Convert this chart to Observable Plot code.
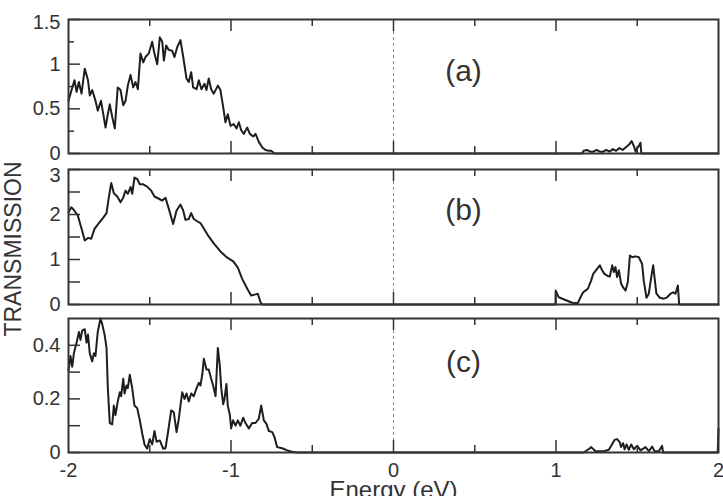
<!DOCTYPE html>
<html><head><meta charset="utf-8">
<script src="https://cdn.jsdelivr.net/npm/d3@7"></script>
<script src="https://cdn.jsdelivr.net/npm/@observablehq/plot@0.6"></script>
<style>
body{margin:0;background:#fff;}
#chart{position:relative;width:723px;height:496px;overflow:hidden;font-family:"Liberation Sans",Arial,sans-serif;color:#333;background:#fff;}
#chart svg{position:absolute;left:0;}
#ylab{position:absolute;left:13px;top:249px;transform:translate(-50%,-50%) rotate(-90deg);font-size:23px;white-space:nowrap;color:#333;}
</style></head><body><div id="chart"><div id="ylab">TRANSMISSION</div></div>
<script>
// ---- data ----
const energyA = [-2.0,-1.977,-1.963,-1.95,-1.936,-1.92,-1.90,-1.88,-1.869,-1.854,-1.834,-1.82,-1.80,-1.786,-1.772,-1.758,-1.746,-1.731,-1.715,-1.697,-1.68,-1.663,-1.649,-1.635,-1.618,-1.602,-1.588,-1.573,-1.557,-1.54,-1.526,-1.506,-1.485,-1.471,-1.454,-1.438,-1.423,-1.413,-1.399,-1.383,-1.362,-1.348,-1.331,-1.311,-1.294,-1.274,-1.26,-1.245,-1.233,-1.212,-1.198,-1.182,-1.163,-1.151,-1.137,-1.122,-1.106,-1.081,-1.065,-1.048,-1.034,-1.02,-1.003,-0.983,-0.966,-0.952,-0.937,-0.921,-0.90,-0.884,-0.863,-0.849,-0.829,-0.808,-0.788,-0.767,-0.753,-0.732,
  1.16,1.17,1.19,1.21,1.23,1.25,1.27,1.29,1.31,1.33,1.35,1.37,1.39,1.41,1.43,1.45,1.465,1.48,1.49,1.50,1.515,1.52,1.525,2.0];
const transA = [0.59,0.735,0.82,0.69,0.80,0.67,0.95,0.82,0.65,0.71,0.59,0.48,0.59,0.44,0.29,0.44,0.55,0.41,0.28,0.74,0.71,0.54,0.59,0.76,0.88,0.74,0.80,0.72,1.12,1.02,1.08,1.12,1.25,1.12,1.00,1.30,1.25,1.04,1.21,1.16,1.15,1.08,1.19,1.27,1.08,0.84,0.80,0.91,0.74,0.72,0.82,0.72,0.78,0.71,0.84,0.72,0.67,0.76,0.71,0.52,0.35,0.44,0.31,0.33,0.28,0.35,0.26,0.22,0.29,0.22,0.19,0.22,0.13,0.07,0.04,0.03,0.03,0.0,
  0,0.03,0.04,0.02,0.02,0.04,0.02,0.02,0.04,0.02,0.05,0.03,0.06,0.04,0.07,0.10,0.14,0.08,0.02,0.06,0.10,0.12,0.0,0];

const energyB = [-2.0,-1.983,-1.967,-1.943,-1.916,-1.90,-1.88,-1.86,-1.84,-1.813,-1.786,-1.766,-1.752,-1.737,-1.721,-1.70,-1.68,-1.663,-1.649,-1.635,-1.618,-1.608,-1.594,-1.577,-1.561,-1.54,-1.516,-1.491,-1.471,-1.444,-1.423,-1.403,-1.383,-1.356,-1.335,-1.311,-1.294,-1.28,-1.26,-1.245,-1.229,-1.208,-1.188,-1.146,-1.106,-1.065,-1.023,-0.986,-0.958,-0.931,-0.90,-0.876,-0.855,-0.835,-0.818,-0.808,
  0.997,0.998,1.017,1.058,1.10,1.134,1.151,1.167,1.196,1.216,1.229,1.253,1.27,1.284,1.298,1.315,1.331,1.346,1.356,1.366,1.376,1.387,1.401,1.413,1.428,1.442,1.455,1.469,1.489,1.51,1.53,1.54,1.557,1.571,1.586,1.598,1.606,1.618,1.639,1.664,1.684,1.705,1.721,1.735,1.75,1.758,2.0];
const transB = [2.05,2.16,2.10,1.98,1.64,1.42,1.48,1.46,1.68,1.81,1.93,2.03,2.38,2.70,2.47,2.40,2.27,2.38,2.53,2.46,2.61,2.46,2.82,2.79,2.67,2.67,2.62,2.53,2.40,2.35,2.31,2.37,2.13,1.79,2.09,2.22,2.09,1.88,1.90,2.03,1.90,1.85,1.81,1.56,1.36,1.18,1.04,0.96,0.82,0.57,0.35,0.20,0.22,0.24,0.05,0,
  0,0.31,0.16,0.10,0.04,0.03,0.16,0.27,0.35,0.53,0.68,0.79,0.87,0.76,0.68,0.64,0.62,0.87,0.72,0.83,0.61,0.76,0.46,0.38,0.31,0.50,1.09,1.05,1.07,1.05,0.90,0.53,0.15,0.24,0.61,0.87,0.61,0.24,0.15,0.13,0.16,0.24,0.27,0.24,0.42,0,0];

const energyC = [-2.0,-1.988,-1.977,-1.967,-1.95,-1.936,-1.926,-1.916,-1.90,-1.889,-1.88,-1.869,-1.854,-1.844,-1.834,-1.82,-1.803,-1.793,-1.778,-1.766,-1.758,-1.746,-1.731,-1.721,-1.711,-1.697,-1.684,-1.676,-1.663,-1.655,-1.643,-1.635,-1.623,-1.608,-1.594,-1.577,-1.561,-1.546,-1.532,-1.516,-1.50,-1.485,-1.471,-1.458,-1.438,-1.417,-1.403,-1.389,-1.368,-1.352,-1.335,-1.321,-1.311,-1.30,-1.286,-1.274,-1.26,-1.245,-1.229,-1.212,-1.198,-1.188,-1.177,-1.167,-1.151,-1.137,-1.122,-1.11,-1.095,-1.081,-1.069,-1.06,-1.048,-1.04,-1.028,-1.02,-1.007,-0.999,-0.987,-0.972,-0.958,-0.942,-0.925,-0.911,-0.89,-0.87,-0.849,-0.829,-0.814,-0.798,-0.782,-0.767,-0.746,-0.732,-0.716,-0.685,-0.654,-0.625,-0.593,
  1.171,1.202,1.217,1.243,1.294,1.325,1.346,1.36,1.376,1.393,1.40,1.413,1.422,1.434,1.448,1.463,1.479,1.50,1.52,1.551,1.571,1.592,1.606,1.633,1.653,1.659,1.995,2.0];
const transC = [0.306,0.36,0.32,0.37,0.41,0.45,0.42,0.455,0.46,0.41,0.44,0.37,0.34,0.37,0.36,0.45,0.50,0.48,0.44,0.39,0.24,0.11,0.105,0.175,0.14,0.19,0.225,0.21,0.275,0.22,0.25,0.24,0.29,0.24,0.175,0.165,0.12,0.07,0.03,0.014,0.05,0.03,0.08,0.04,0.045,0.014,0.016,0.07,0.157,0.15,0.076,0.126,0.175,0.225,0.20,0.22,0.19,0.22,0.21,0.24,0.26,0.25,0.29,0.35,0.31,0.31,0.275,0.25,0.21,0.39,0.325,0.24,0.18,0.20,0.256,0.175,0.14,0.09,0.12,0.10,0.12,0.10,0.13,0.11,0.09,0.11,0.11,0.126,0.175,0.12,0.107,0.08,0.076,0.057,0.02,0.016,0.008,0.003,0,
  0,0.013,0.02,0.005,0.005,0.01,0.032,0.047,0.05,0.038,0.02,0.035,0.012,0.03,0.01,0.03,0.012,0.025,0.008,0.02,0.005,0.022,0.005,0.005,0.025,0,0,0.09];

const xTickLabels = [-2, -1, 0, 1, 2];
const xMajorTicks = [-1, 0, 1];
const xMinorTicks = [-1.5, -0.5, 0.5, 1.5];
const panelLabels = ["(a)", "(b)", "(c)"];
const yTicksA = [0, 0.5, 1, 1.5], yMinorA = [0.25, 0.75, 1.25];
const yTicksB = [0, 1, 2, 3], yMinorB = [0.5, 1.5, 2.5];
const yTicksC = [0, 0.2, 0.4], yMinorC = [0.1, 0.3];

// ---- drawing ----
const W = 723, ML = 68, MR = 5;
const FONT = '"Liberation Sans", Arial, sans-serif';
const INK = "#333";

function panel(o) {
  const iw = W - ML - MR, ih = o.height - o.mt - o.mb;
  const data = o.energy.map((e, i) => ({e, t: o.trans[i]}));
  const top = o.yDomain[1];
  const marks = [
    Plot.ruleX([0], {stroke: "#8c8c8c", strokeDasharray: "3,3", strokeWidth: 1}),
    Plot.line(data, {x: "e", y: "t", stroke: "#1e1e1e", strokeWidth: 2}),
    Plot.tickY(o.yTicks, {y: d => d, insetRight: iw - 12, stroke: INK, strokeWidth: 1.5}),
    Plot.tickY(o.yMinor, {y: d => d, insetRight: iw - o.minorLen, stroke: INK, strokeWidth: 1.5}),
    Plot.tickX(xMajorTicks, {x: d => d, insetBottom: ih - 12, stroke: INK, strokeWidth: 1.5}),
    Plot.tickX(xMajorTicks, {x: d => d, insetTop: ih - 12, stroke: INK, strokeWidth: 1.5}),
    Plot.tickX(xMinorTicks, {x: d => d, insetBottom: ih - 7, stroke: INK, strokeWidth: 1.5}),
    Plot.tickX(xMinorTicks, {x: d => d, insetTop: ih - 7, stroke: INK, strokeWidth: 1.5}),
    Plot.frame({stroke: INK, strokeWidth: 2}),
    Plot.axisY({ticks: o.yTicks.filter(d => d !== top), tickSize: 0, tickPadding: 8, fontSize: 20, tickFormat: d => String(d), label: null}),
    Plot.axisY({ticks: o.yTicks.filter(d => d === top), tickSize: 0, tickPadding: 8, fontSize: 20, dy: o.topShift, tickFormat: d => String(d), label: null}),
    Plot.text([o.label], {frameAnchor: "top", dx: 70, dy: o.labelDy, fontSize: 30, lineAnchor: "middle", fill: INK})
  ];
  if (o.bottom) {
    marks.push(Plot.axisX({ticks: xTickLabels, tickSize: 0, tickPadding: 10, fontSize: 20, tickFormat: d => String(d), label: null}));
    marks.push(Plot.text(["Energy (eV)"], {frameAnchor: "bottom", dy: 28, lineAnchor: "top", fontSize: 24, fill: INK}));
  }
  const svg = Plot.plot({
    width: W, height: o.height,
    marginLeft: ML, marginRight: MR, marginTop: o.mt, marginBottom: o.mb,
    style: {fontFamily: FONT, color: INK, background: "transparent", overflow: "visible"},
    x: {domain: [-2, 2], axis: o.bottom ? undefined : null},
    y: {domain: o.yDomain},
    marks
  });
  svg.style.top = o.top + "px";
  document.getElementById("chart").appendChild(svg);
}

panel({energy: energyA, trans: transA, yDomain: [0, 1.5], yTicks: yTicksA, yMinor: yMinorA, minorLen: 6, topShift: 3,
  top: 0, height: 161, mt: 19, mb: 8, label: panelLabels[0], labelDy: 52});
panel({energy: energyB, trans: transB, yDomain: [0, 3], yTicks: yTicksB, yMinor: yMinorB, minorLen: 12, topShift: 6,
  top: 161, height: 150, mt: 8, mb: 7, label: panelLabels[1], labelDy: 41});
panel({energy: energyC, trans: transC, yDomain: [0, 0.5], yTicks: yTicksC, yMinor: yMinorC, minorLen: 12, topShift: 0,
  top: 311, height: 185, mt: 7, mb: 44, label: panelLabels[2], labelDy: 44, bottom: true});
</script></body></html>
